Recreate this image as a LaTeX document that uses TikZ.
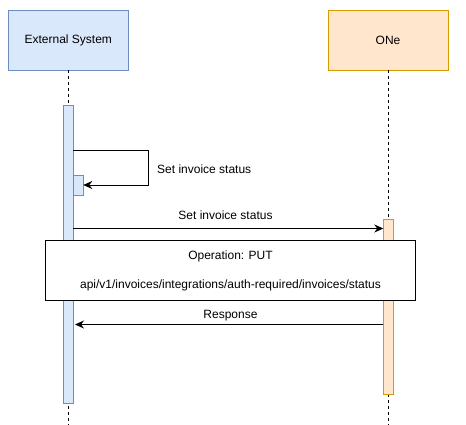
\documentclass[tikz,border=0pt]{standalone}
\usepackage{fontspec}
\setmainfont{Liberation Sans}
\usetikzlibrary{arrows.meta}
\definecolor{bfill}{HTML}{DAE8FC}
\definecolor{bdraw}{HTML}{6C8EBF}
\definecolor{ofill}{HTML}{FFE6CC}
\definecolor{odraw}{HTML}{D79B00}
\begin{document}
\begin{tikzpicture}[x=1pt,y=-1pt,
  font=\fontsize{12pt}{14pt}\selectfont,
  actorbox/.style={draw, minimum width=120pt, minimum height=60pt, inner sep=0pt, line width=0.9pt},
  actbar/.style={draw, line width=0.9pt},
  life/.style={dash pattern=on 3pt off 3pt, line width=0.8pt},
  msg/.style={line width=0.9pt, -{Stealth[length=9pt,width=8pt,inset=3pt]}},
  lbl/.style={inner sep=0pt}]
\useasboundingbox (0,0) rectangle (466,425);
\node[actorbox, fill=bfill, draw=bdraw] (es) at (68.3,40) {External System};
\node[actorbox, fill=ofill, draw=odraw] (one) at (388,40) {ONe};
\coordinate (esend) at (68.3,425);
\coordinate (oneend) at (388,425);
\draw[life] (es.south) -- (esend);
\draw[life] (one.south) -- (oneend);
\filldraw[actbar, fill=bfill, draw=bdraw] (63.3,105) rectangle (73.3,403.3);
\filldraw[actbar, fill=bfill, draw=bdraw] (73.3,175) rectangle (83.3,195);
\filldraw[actbar, fill=ofill, draw=odraw] (383.3,219.3) rectangle (393.3,394.3);
\coordinate (s1) at (73.3,150);
\coordinate (s2) at (148,150);
\coordinate (s3) at (148,185);
\coordinate (s4) at (83.3,185);
\draw[msg] (s1) -- (s2) -- (s3) -- (s4);
\node[lbl, anchor=west] (l1) at (157,169) {Set invoice status};
\coordinate (m1a) at (73.3,228.5);
\coordinate (m1b) at (383.3,228.5);
\draw[msg] (m1a) -- (m1b);
\node[lbl] (l2) at (225.5,215) {Set invoice status};
\node[draw, fill=white, line width=0.9pt, minimum width=370pt, minimum height=59.5pt, inner sep=0pt] (note) at (230.5,270.3) {};
\node[lbl] (n1) at (230.5,256) {Operation: PUT};
\node[lbl] (n2) at (230.5,285) {api/v1/invoices/integrations/auth-required/invoices/status};
\coordinate (m2a) at (383.3,324.5);
\coordinate (m2b) at (75,324.5);
\draw[msg] (m2a) -- (m2b);
\node[lbl] (l3) at (230.5,316) {Response};
\end{tikzpicture}
\end{document}
